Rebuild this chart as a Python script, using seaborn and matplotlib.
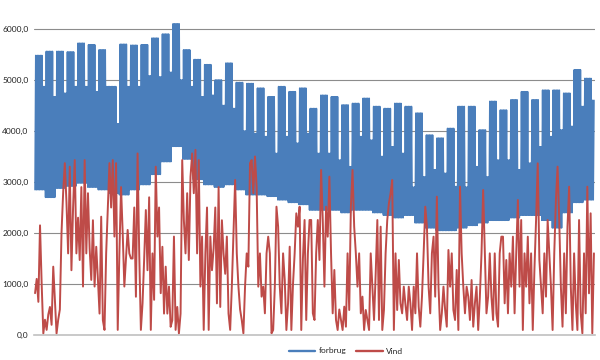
import numpy as np
import pandas as pd
import matplotlib
matplotlib.use("Agg")
import matplotlib.pyplot as plt
import seaborn as sns

# ---- data (MW) ----
# weekly weekday peak, weekend peak and night low for "forbrug"
uge_top = [5480, 5560, 5560, 5550, 5720, 5690, 5590, 4870, 5700, 5680,
           5690, 5820, 5900, 6100, 5590, 5400, 5300, 5000, 5330, 4950,
           4930, 4840, 4670, 4870, 4770, 4840, 4440, 4700, 4670, 4510,
           4540, 4640, 4480, 4440, 4540, 4480, 4350, 3920, 3860, 4050,
           4480, 4480, 4020, 4580, 4410, 4610, 4770, 4610, 4800, 4800,
           4740, 5200, 5030]
weekend_top = [4870, 4670, 4740, 4870, 4870, 4770, 4870, 4140, 4870, 4870,
               5080, 5060, 5150, 5000, 4870, 4670, 4700, 4500, 4440, 4000,
               3950, 3890, 3560, 3890, 3760, 3950, 3560, 3560, 3430, 3300,
               3890, 3820, 3500, 3690, 3560, 2900, 3100, 3240, 3170, 2910,
               2900, 3300, 3100, 3430, 3430, 3240, 3370, 3690, 3890, 4020,
               4090, 4480, 4600]
lav = [2850, 2700, 2880, 2920, 2980, 2900, 2850, 2780, 2750, 2850,
       2950, 3150, 3400, 3700, 3450, 3050, 2950, 2900, 2950, 2850,
       2750, 2750, 2720, 2650, 2600, 2560, 2450, 2450, 2450, 2400,
       2450, 2450, 2400, 2350, 2300, 2350, 2200, 2100, 2050, 2050,
       2100, 2150, 2200, 2250, 2250, 2300, 2350, 2350, 2250, 2100,
       2400, 2600, 2650]

# wind production, read along the time axis
vind = [
    820, 1100, 650, 2150, 1000, 30, 300, 100, 400, 550, 200, 1340, 700, 30, 300,
    500, 2000, 2800, 3370, 2600, 1600, 3300, 1270, 2500, 3430, 1600, 2300, 1470,
    2900, 950, 3430, 1600, 2780, 1700, 1080, 2250, 950, 1730, 1100, 420, 2320, 290,
    100, 1600, 2500, 3370, 2500, 3430, 1930, 3370, 100, 1600, 2900, 2000, 950, 1500,
    2060, 1600,
    1500, 1500, 2500, 750, 3560, 1600, 100, 620, 1500, 2450, 1270, 2700, 100, 1600,
    690, 3300, 1930, 2500, 820, 1730, 420, 1340, 420, 950, 160, 290, 1930, 100, 550,
    30, 420, 3430, 2250, 1600, 2780, 1470, 3100, 3560, 2780, 3630, 1600, 3430, 950,
    1930, 100, 1600, 2500, 100, 1930, 1270, 1700,
    2500, 620, 2900, 550, 2250, 1600, 1200, 1930, 420, 100, 950, 2000, 3040, 1600,
    950, 500, 294, 33, 950, 1600, 1340, 3370, 3430, 2780, 3500, 2900, 948, 1600, 752,
    948, 425, 1600, 1928, 1601, 33, 98, 948, 2516, 2124, 948, 425, 1601, 1078, 98,
    621, 1732, 98, 1000, 1601, 2386, 2124, 2516, 98, 1500, 2255, 294, 1601, 2255,
    2255, 425, 294, 1601, 2255, 1471, 3235, 2255, 948, 2516, 1928, 3105, 1601, 425,
    1275, 294, 98, 500, 294, 98, 556, 163, 1601, 490, 2516, 3235, 2124, 1601, 948,
    1601, 425, 752, 98, 490, 294, 98, 1601, 948, 294, 1200, 2255, 294, 2124, 98, 490,
    1601, 2255, 2582, 2778, 3039, 98, 1601, 490, 1471, 621, 425, 948, 600,
    294, 948, 621, 98, 948, 425, 1601, 556, 163, 752, 1601, 2516, 2124, 948, 425,
    1601, 1928, 752, 2712, 948, 98, 425, 948, 490, 163, 1667, 948, 1601, 490, 294,
    1275, 98, 2908, 1601, 948, 425, 948, 752, 294, 1078, 163, 621, 948, 98, 752,
    1601, 2843, 1601, 425, 752, 1601, 752, 294, 1601, 425, 163, 1601, 1928,
    1928, 621, 1471, 425, 1601, 948, 1928, 425, 1601, 2647, 948, 2255, 98, 1601, 948,
    1928, 621, 1601, 98, 1275, 2255, 3366, 1471, 948, 425, 1601, 752, 2255, 1601,
    948, 98, 1601, 2647, 3301, 2255, 948, 163, 1601, 425, 2124, 2908, 948, 98, 1601,
    621, 98, 2255, 425, 33, 1601, 425, 2908, 817, 2386, 33, 1601,
]

series_names = ["forbrug", "Vind"]
y_ticks = [0, 1000, 2000, 3000, 4000, 5000, 6000]

# ---- build long table ----
t_f, v_f = [], []
for w in range(len(uge_top)):
    for d in range(7):
        day = w * 7 + d
        peak = uge_top[w] if d < 5 else weekend_top[w]
        t_f += [day, day + 0.5]
        v_f += [lav[w], peak]
t_end = t_f[-1]
t_v = np.linspace(0, t_end, len(vind))

df = pd.concat([
    pd.DataFrame({"tid": t_f, "MW": v_f, "serie": series_names[0]}),
    pd.DataFrame({"tid": t_v, "MW": vind, "serie": series_names[1]}),
], ignore_index=True)

sns.set_style("white")
plt.rcParams["font.family"] = ["Lato", "DejaVu Sans"]

fig = plt.figure(figsize=(6, 3.6), dpi=100)
ax = fig.add_axes([34 / 600, 1 - 335 / 360, 561 / 600, (335 - 18.8) / 360])

sns.lineplot(data=df[df.serie == "forbrug"], x="tid", y="MW", hue="serie", estimator=None,
             sort=False, palette={"forbrug": "#4A7EBB"}, linewidth=1.2, ax=ax, legend=True)
sns.lineplot(data=df[df.serie == "Vind"], x="tid", y="MW", hue="serie", estimator=None,
             sort=False, palette={"Vind": "#BE4B48"}, linewidth=1.4, ax=ax, legend=True)

ax.set_ylim(0, 6200)
ax.set_xlim(-0.7, t_end + 0.7)
ax.set_yticks(y_ticks)
ax.set_yticklabels([f"{v:.1f}".replace(".", ",") for v in y_ticks], fontsize=6, color="#222222")
ax.set_xticks([])
ax.tick_params(axis="y", length=0, pad=4)
ax.set_xlabel("")
ax.set_ylabel("")
for v in y_ticks[1:]:
    ax.axhline(v, color="#8C8C8C", lw=0.8, zorder=0)
for s in ["top", "right", "left"]:
    ax.spines[s].set_visible(False)
ax.spines["bottom"].set_color("#C0C0C0")
ax.spines["bottom"].set_linewidth(1.2)

handles, labels = ax.get_legend_handles_labels()
for h in handles:
    h.set_linewidth(1.7)
ax.legend(handles, labels, loc="center", bbox_to_anchor=(312 / 561, (335 - 351) / (335 - 18.8)),
          ncol=2, frameon=False, fontsize=6, handlelength=3.2, columnspacing=1.2,
          handletextpad=0.4)

fig.savefig("out.png", dpi=100)
